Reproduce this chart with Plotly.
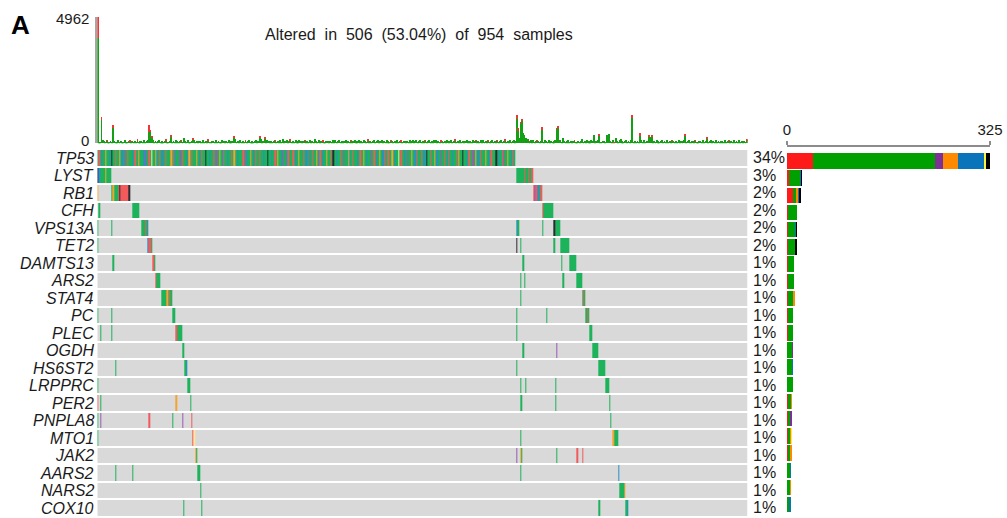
import plotly.graph_objects as go

W, H = 1007, 518
N_TOTAL = 954          # cohort size
N_SHOWN = 506          # altered samples drawn as columns
TMB_MAX = 4962         # top panel axis maximum

genes = ["TP53", "LYST", "RB1", "CFH", "VPS13A", "TET2", "DAMTS13", "ARS2",
         "STAT4", "PC", "PLEC", "OGDH", "HS6ST2", "LRPPRC", "PER2", "PNPLA8",
         "MTO1", "JAK2", "AARS2", "NARS2", "COX10"]

# variant classification codes (stack order of the side bars)
variant_codes = ["R", "G", "P", "O", "B", "Y", "K"]
variant_names = ["Nonsense_Mutation", "Missense_Mutation", "Frame_Shift_Ins",
                 "Splice_Site", "Frame_Shift_Del", "In_Frame_Del", "Multi_Hit"]
tile_colors = ["#F25A5C", "#1DB35A", "#9B59B6", "#F5A233", "#2A8FCB", "#FFE89A", "#2B2B33"]
bar_colors = ["#FF1A1A", "#00A000", "#7B3294", "#FF8A00", "#0A74BA", "#FFF23A", "#000000"]
empty_color = "#D9D9D9"

# TP53 calls, one code per sample column (columns 0-324)
tp53_codes = ("GRGBGGOGGBGKGGRGGOGBGPGRG"
              "GGBGRGGOGGGBPGGRGYGGOBGRG"
              "BGGRGGGOGRBGGGPGRGGBGOGRG"
              "GGOGBGRGGKGGBGGRGPGGOGBRG"
              "GBGGRGOGGBGGGRPGBGGOGBGRG"
              "GRGGBGGKGGBGGRGOGGBPGGBRG"
              "GGRGBGOGGGRGBGGPGRGGOGBRG"
              "BGGOGGRGKGGBGGRGPGGGOBGRG"
              "GGBGRGGOGBGGPGGRGBGOGGBRG"
              "GRGGOGBGGYGRGGBGPGGOGGBRG"
              "GGRGBGKGGRGGOGBGGPGGRGBRG"
              "GBGGRGOGGKGGBGRGGPGOGBGRG"
              "GGOGBGRGGGKGBGGRPGGOGGBRG")

# per gene: (first sample column, consecutive variant codes)
mutations = {
    "TP53":    [(0, tp53_codes)],
    "LYST":    [(0, "KBGGGGOGGGG"), (326, "GGGGGGRGGRGGR")],
    "RB1":     [(0, "O"), (11, "GOGGGRKRRRRRRKK"), (339, "RPRBBGR")],
    "CFH":     [(1, "G"), (27, "GGGGGG"), (346, "RGGGGGGGG")],
    "VPS13A":  [(0, "G"), (11, "G"), (34, "GGGRGB"), (326, "BG"), (346, "G"), (355, "KGGGG")],
    "TET2":    [(0, "G"), (39, "BRRG"), (326, "K"), (329, "G"), (355, "G"), (360, "GGGGGGG")],
    "DAMTS13": [(12, "G"), (43, "RG"), (331, "G"), (361, "G"), (367, "GGGGGG")],
    "ARS2":    [(45, "RGGG"), (329, "G"), (332, "G"), (362, "G"), (373, "GGGG")],
    "STAT4":   [(50, "GGGGOGRG"), (329, "G"), (377, "GRG")],
    "PC":      [(0, "G"), (11, "G"), (58, "GGG"), (326, "G"), (349, "G"), (380, "GRG")],
    "PLEC":    [(2, "G"), (11, "G"), (61, "RGGGG"), (326, "G"), (383, "GG")],
    "OGDH":    [(66, "GG"), (331, "G"), (357, "P"), (385, "GGGGG")],
    "HS6ST2":  [(14, "G"), (68, "GB"), (326, "G"), (390, "GGGGG")],
    "LRPPRC":  [(0, "G"), (70, "GG"), (329, "G"), (333, "G"), (356, "G"), (395, "GGG")],
    "PER2":    [(0, "R"), (2, "G"), (61, "O"), (72, "G"), (329, "GG"), (356, "G"), (398, "G")],
    "PNPLA8":  [(0, "G"), (2, "P"), (40, "R"), (58, "G"), (66, "P"), (73, "R"), (399, "G")],
    "MTO1":    [(0, "G"), (74, "RY"), (329, "G"), (401, "OGGG")],
    "JAK2":    [(76, "OG"), (326, "P"), (329, "OG"), (357, "G"), (373, "R"), (377, "R")],
    "AARS2":   [(14, "G"), (27, "G"), (78, "GG"), (329, "G"), (405, "B")],
    "NARS2":   [(80, "G"), (406, "GGGGO")],
    "COX10":   [(67, "G"), (81, "G"), (390, "G"), (411, "GB")],
}

# total variants per sample (top panel), sample columns 0-505
tmb_total = [
    4962, 70, 55, 1024, 120, 85, 45, 130, 70, 55, 95, 40, 720, 80, 65, 50, 120, 35, 90, 60,
    45, 110, 70, 40, 95, 130, 55, 80, 45, 100, 65, 150, 40, 75, 90, 55, 120, 60, 85, 140,
    720, 520, 290, 110, 65, 80, 45, 95, 130, 60, 75, 40, 90, 150, 55, 70, 100, 330, 45, 85,
    60, 120, 75, 50, 95, 140, 65, 200, 80, 45, 110, 70, 55, 90, 220, 130, 60, 85, 40, 100,
    75, 50, 120, 65, 90, 40, 145, 70, 55, 100, 80, 45, 125, 60, 95, 70, 50, 115, 85, 40,
    90, 65, 130, 55, 75, 100, 290, 180, 60, 85, 45, 120, 70, 95, 50, 140, 65, 80, 110, 55,
    75, 45, 100, 130, 60, 85, 290, 150, 70, 95, 220, 55, 120, 80, 45, 105, 65, 90, 140, 50,
    80, 60, 115, 70, 160, 45, 95, 125, 55, 85, 160, 70, 100, 40, 130, 75, 60, 110, 85, 50,
    95, 140, 65, 80, 45, 120, 70, 100, 55, 150, 85, 60, 115, 40, 90, 130, 70, 55, 105, 80,
    60, 95, 45, 125, 75, 110, 50, 85, 140, 65, 100, 55, 80, 120, 45, 95, 70, 130, 60, 85,
    110, 50, 75, 140, 65, 95, 45, 120, 80, 55, 150, 70, 100, 40, 85, 125, 60, 90, 115, 50,
    80, 135, 65, 95, 45, 110, 75, 55, 140, 85, 60, 100, 45, 120, 70, 95, 130, 55, 80, 105,
    65, 90, 45, 125, 75, 110, 50, 95, 140, 60, 85, 115, 45, 100, 70, 130, 55, 90, 120, 65,
    80, 45, 110, 140, 70, 95, 55, 125, 85, 60, 100, 45, 135, 75, 90, 115, 50, 80, 145, 65,
    95, 55, 120, 70, 105, 45, 85, 130, 60, 100, 75, 50, 115, 90, 140, 65, 80, 45, 110, 70,
    125, 55, 95, 75, 140, 60, 85, 110, 45, 100, 70, 130, 55, 90, 115, 65, 80, 145, 50, 95,
    70, 120, 60, 85, 110, 75, 1115, 590, 200, 850, 955, 400, 330, 200, 150, 180, 90, 130, 75, 110,
    60, 95, 140, 80, 55, 100, 630, 70, 120, 85, 45, 110, 65, 90, 50, 75, 140, 600, 690, 80,
    120, 55, 200, 90, 45, 75, 110, 60, 85, 40, 95, 130, 55, 70, 100, 45, 80, 150, 65, 90,
    50, 110, 75, 60, 140, 85, 330, 55, 95, 120, 360, 70, 45, 100, 80, 55, 330, 300, 360, 90,
    65, 110, 50, 200, 85, 60, 130, 170, 75, 45, 95, 120, 60, 80, 50, 140, 1115, 70, 95, 60,
    85, 45, 390, 110, 70, 130, 55, 95, 80, 300, 250, 300, 65, 100, 45, 120, 75, 55, 90, 140,
    60, 85, 45, 110, 70, 95, 55, 130, 80, 45, 100, 65, 120, 50, 90, 75, 140, 360, 60, 85,
    110, 50, 75, 95, 45, 130, 70, 55, 100, 85, 40, 120, 65, 90, 230, 55, 80, 110, 45, 95,
    70, 130, 55, 85, 45, 100, 75, 60, 120, 50, 90, 140, 65, 80, 45, 110, 70, 95, 55, 125,
    60, 85, 45, 100, 70, 160,
]

# non-missense part of each sample's total (red caps), keyed by column
tmb_other = {
    0: 830, 3: 130, 7: 25, 12: 110, 25: 30, 31: 30, 40: 260, 41: 80, 42: 40,
    53: 30, 57: 40, 65: 30, 74: 40, 86: 30, 106: 40, 115: 25, 126: 40, 130: 35,
    138: 30, 150: 30, 161: 25, 175: 30, 197: 25, 210: 30, 228: 25, 236: 30,
    255: 25, 267: 30, 278: 30, 294: 25, 304: 30, 311: 25, 317: 30, 326: 160,
    327: 60, 329: 70, 330: 90, 336: 20, 342: 30, 346: 60, 357: 50, 358: 60,
    371: 25, 390: 40, 402: 25, 416: 130, 422: 100, 429: 30, 431: 30, 447: 25,
    457: 40, 465: 25, 474: 30, 491: 25, 505: 30,
}

# ---- build the sample x gene matrix and the per-gene class counts ----
code_index = {c: i + 1 for i, c in enumerate(variant_codes)}
z = [[0] * N_SHOWN for _ in genes]
counts = {g: {c: 0 for c in variant_codes} for g in genes}
for gi, g in enumerate(genes):
    for start, codes in mutations[g]:
        for k, c in enumerate(codes):
            z[gi][start + k] = code_index[c]
            counts[g][c] += 1
gene_totals = [sum(counts[g].values()) for g in genes]

# discrete colour scale: 0 = wild type, 1..7 = classes
palette = [empty_color] + tile_colors
n = len(palette)
colorscale = []
for k, col in enumerate(palette):
    colorscale.append([k / n, col])
    colorscale.append([(k + 1) / n, col])

FONT = "Liberation Sans, Arial, Helvetica, sans-serif"
px_x = lambda p: p / W
px_y = lambda p: 1 - p / H

fig = go.Figure()

# top panel: variants per sample
cols = list(range(N_SHOWN))
miss = [t - tmb_other.get(i, 0) for i, t in enumerate(tmb_total)]
oth = [tmb_other.get(i, 0) for i in cols]
fig.add_trace(go.Bar(x=cols, y=miss, width=0.72, marker_color="#14A014",
                     marker_line_width=0, xaxis="x", yaxis="y", showlegend=False))
fig.add_trace(go.Bar(x=cols, y=oth, width=0.72, marker_color="#F03535",
                     marker_line_width=0, xaxis="x", yaxis="y", showlegend=False))

# oncoprint matrix
fig.add_trace(go.Heatmap(z=z, x=cols, y=list(range(len(genes))),
                         zmin=-0.5, zmax=n - 0.5, colorscale=colorscale,
                         showscale=False, ygap=2, xgap=0,
                         xaxis="x2", yaxis="y2", hoverinfo="skip"))

# side panel: mutated samples per gene, stacked by class
rows = list(range(len(genes)))
for ci, c in enumerate(variant_codes):
    fig.add_trace(go.Bar(y=rows, x=[counts[g][c] for g in genes], orientation="h",
                         width=0.9, marker_color=bar_colors[ci], marker_line_width=0,
                         name=variant_names[ci], xaxis="x3", yaxis="y3", showlegend=False))

annotations = []
for gi, g in enumerate(genes):
    annotations.append(dict(text=f"<i>{g}</i>", x=px_x(96), y=gi, xref="paper", yref="y2",
                            xanchor="right", yanchor="middle", showarrow=False, yshift=-0.5,
                            font=dict(size=16, family=FONT, color="#1a1a1a")))
    pct = round(100 * gene_totals[gi] / N_TOTAL)
    annotations.append(dict(text=f"{pct}%", x=px_x(751), y=gi, xref="paper", yref="y2",
                            xanchor="left", yanchor="middle", showarrow=False,
                            font=dict(size=16, family=FONT, color="#1a1a1a")))

# top panel axis labels (0 sits just above the first gene row)
annotations.append(dict(text=f"{TMB_MAX}", x=px_x(91), y=TMB_MAX, xref="paper", yref="y",
                        xanchor="right", yanchor="middle", showarrow=False, yshift=-1.5,
                        font=dict(size=15, family=FONT, color="#1a1a1a")))
annotations.append(dict(text="0", x=px_x(91), y=0, xref="paper", yref="y",
                        xanchor="right", yanchor="middle", showarrow=False, yshift=3,
                        font=dict(size=15, family=FONT, color="#1a1a1a")))

sp = " \u00a0"
title = sp.join(["Altered", "in", f"{N_SHOWN}", f"({100 * N_SHOWN / N_TOTAL:.2f}%)",
                 "of", f"{N_TOTAL}", "samples"])
annotations.append(dict(text=title, x=px_x(419), y=px_y(35), xref="paper", yref="paper",
                        xanchor="center", yanchor="middle", showarrow=False,
                        font=dict(size=16, family=FONT, color="#1a1a1a")))
annotations.append(dict(text="<b>A</b>", x=px_x(20.5), y=px_y(25), xref="paper", yref="paper",
                        xanchor="center", yanchor="middle", showarrow=False,
                        font=dict(size=26, family=FONT, color="#000000")))

mx0, mx1 = px_x(97.3), px_x(747.7)
fig.update_layout(
    template="none",
    width=W, height=H, margin=dict(l=0, r=0, t=0, b=0, pad=0), autosize=False,
    paper_bgcolor="white", plot_bgcolor="white",
    barmode="stack", showlegend=False,
    font=dict(family=FONT, size=15, color="#1a1a1a"),
    annotations=annotations,
    xaxis=dict(domain=[mx0, mx1], range=[-0.5, N_SHOWN - 0.5], visible=False, anchor="y",
               automargin=False),
    yaxis=dict(domain=[px_y(143.3), px_y(16.7)], range=[0, TMB_MAX], anchor="x",
               showticklabels=False, ticks="",
               showline=True, linecolor="#a6a6a6", linewidth=1.5, automargin=False,
               showgrid=False, zeroline=False),
    xaxis2=dict(domain=[mx0, mx1], range=[-0.5, N_SHOWN - 0.5], visible=False, anchor="y2",
                automargin=False),
    yaxis2=dict(domain=[px_y(516.5), px_y(149)], range=[len(genes) - 0.5, -0.5],
                visible=False, anchor="x2", automargin=False),
    xaxis3=dict(domain=[px_x(787), px_x(990)], range=[0, 325], side="top", anchor="y3",
                tickvals=[0, 325], ticktext=["0", "325"], ticks="outside", ticklen=4,
                tickwidth=1.5, tickcolor="#8c8c8c", showline=True, linecolor="#8c8c8c",
                linewidth=2, showgrid=False, zeroline=False, automargin=False,
                tickfont=dict(size=15, family=FONT, color="#1a1a1a")),
    yaxis3=dict(domain=[0, px_y(147.3)], range=[20.78, -0.797], visible=False, anchor="x3",
                automargin=False),
)

# page without the default body margin so the figure fills the window
fig.write_html("out.html",
               post_script="document.body.style.margin='0';document.body.style.padding='0';")
